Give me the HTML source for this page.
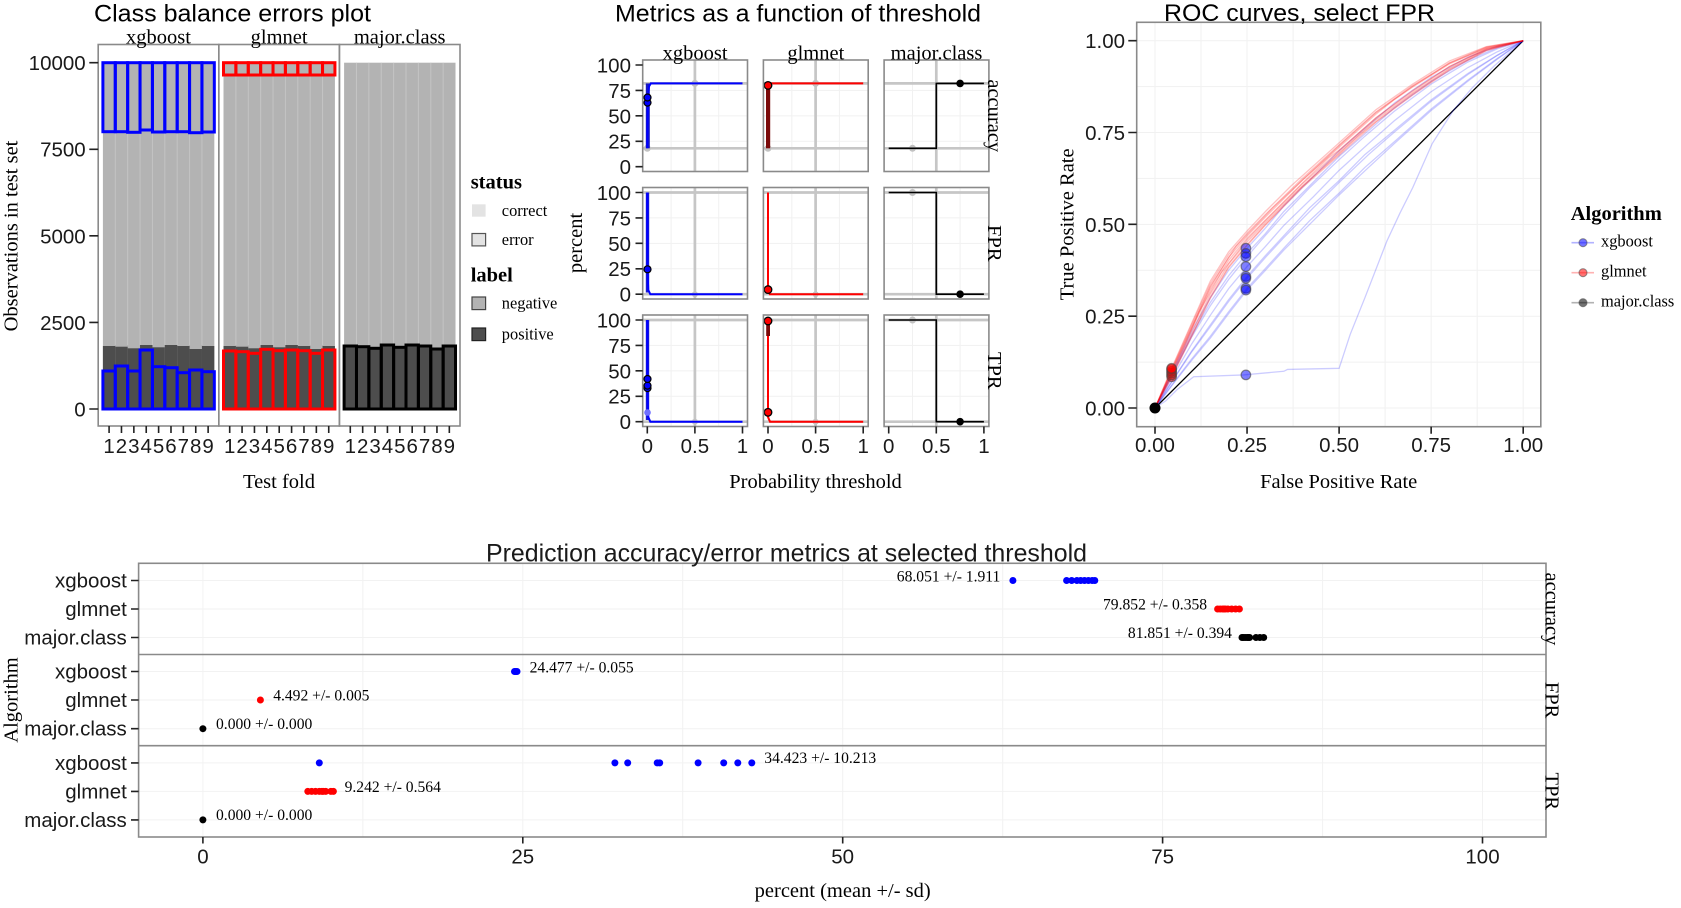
<!DOCTYPE html>
<html><head><meta charset="utf-8"><style>
html,body{margin:0;padding:0;background:#fff}
svg{display:block}
text.s{font-family:"Liberation Sans",Arial,sans-serif;font-size:20.5px;fill:#1a1a1a}
text.r{font-family:"Liberation Serif","Times New Roman",serif;font-size:20.5px;fill:#000}
text.t{font-size:24px;fill:#000}
text.lg{font-size:16.4px}
text.an{font-size:15.6px}
text.b{font-weight:bold}
.c polyline{vector-effect:non-scaling-stroke;fill:none}
</style></head><body>
<svg width="1681" height="908" viewBox="0 0 1681 908" xmlns="http://www.w3.org/2000/svg">
<rect width="1681" height="908" fill="#fff"/>

<!-- ============ PLOT 1: Class balance ============ -->
<text class="s t" x="94" y="21.7" textLength="277" lengthAdjust="spacingAndGlyphs">Class balance errors plot</text>
<g fill="#b3b3b3">
<rect x="102.9" y="62.7" width="111.42" height="346.3"/>
<rect x="223.5" y="62.7" width="111.42" height="346.3"/>
<rect x="344.1" y="62.7" width="111.42" height="346.3"/>
</g>
<g fill="#4d4d4d">
<rect x="102.9" y="346" width="12.4" height="63"/><rect x="115.28" y="346.7" width="12.4" height="62.3"/><rect x="127.66" y="348.3" width="12.4" height="60.7"/><rect x="140.04" y="345" width="12.4" height="64"/><rect x="152.42" y="347.3" width="12.4" height="61.7"/><rect x="164.8" y="345" width="12.4" height="64"/><rect x="177.18" y="346" width="12.4" height="63"/><rect x="189.56" y="349" width="12.4" height="60"/><rect x="201.94" y="346" width="12.38" height="63"/>
<rect x="223.5" y="346" width="12.4" height="63"/><rect x="235.88" y="346.7" width="12.4" height="62.3"/><rect x="248.26" y="348.3" width="12.4" height="60.7"/><rect x="260.64" y="345" width="12.4" height="64"/><rect x="273.02" y="347.3" width="12.4" height="61.7"/><rect x="285.4" y="345" width="12.4" height="64"/><rect x="297.78" y="346" width="12.4" height="63"/><rect x="310.16" y="349" width="12.4" height="60"/><rect x="322.54" y="346" width="12.38" height="63"/>
<rect x="344.1" y="346" width="12.4" height="63"/><rect x="356.48" y="346.7" width="12.4" height="62.3"/><rect x="368.86" y="348.3" width="12.4" height="60.7"/><rect x="381.24" y="345" width="12.4" height="64"/><rect x="393.62" y="347.3" width="12.4" height="61.7"/><rect x="406" y="345" width="12.4" height="64"/><rect x="418.38" y="346" width="12.4" height="63"/><rect x="430.76" y="349" width="12.4" height="60"/><rect x="443.14" y="346" width="12.38" height="63"/>
</g>
<path stroke="#c4c4c4" stroke-width="1" d="M115.28,62.7V345M127.66,62.7V345M140.04,62.7V345M152.42,62.7V345M164.8,62.7V345M177.18,62.7V345M189.56,62.7V345M201.94,62.7V345M235.88,62.7V345M248.26,62.7V345M260.64,62.7V345M273.02,62.7V345M285.4,62.7V345M297.78,62.7V345M310.16,62.7V345M322.54,62.7V345M356.48,62.7V345M368.86,62.7V345M381.24,62.7V345M393.62,62.7V345M406,62.7V345M418.38,62.7V345M430.76,62.7V345M443.14,62.7V345"/>
<g fill="none" stroke="#0000ff" stroke-width="3">
<rect x="102.9" y="62.7" width="12.38" height="69"/><rect x="115.28" y="62.7" width="12.38" height="69"/><rect x="127.66" y="62.7" width="12.38" height="69.6"/><rect x="140.04" y="62.7" width="12.38" height="67.3"/><rect x="152.42" y="62.7" width="12.38" height="69.3"/><rect x="164.8" y="62.7" width="12.38" height="69"/><rect x="177.18" y="62.7" width="12.38" height="69"/><rect x="189.56" y="62.7" width="12.38" height="70"/><rect x="201.94" y="62.7" width="12.38" height="69.3"/>
<rect x="102.9" y="371" width="12.38" height="38"/><rect x="115.28" y="366" width="12.38" height="43"/><rect x="127.66" y="371" width="12.38" height="38"/><rect x="140.04" y="350" width="12.38" height="59"/><rect x="152.42" y="366.7" width="12.38" height="42.3"/><rect x="164.8" y="367.7" width="12.38" height="41.3"/><rect x="177.18" y="372.7" width="12.38" height="36.3"/><rect x="189.56" y="370" width="12.38" height="39"/><rect x="201.94" y="371.7" width="12.38" height="37.3"/>
</g>
<g fill="none" stroke="#ff0000" stroke-width="3">
<rect x="223.5" y="62.7" width="12.38" height="12.3"/><rect x="235.88" y="62.7" width="12.38" height="12.3"/><rect x="248.26" y="62.7" width="12.38" height="12.3"/><rect x="260.64" y="62.7" width="12.38" height="12.3"/><rect x="273.02" y="62.7" width="12.38" height="12.3"/><rect x="285.4" y="62.7" width="12.38" height="12.3"/><rect x="297.78" y="62.7" width="12.38" height="12.3"/><rect x="310.16" y="62.7" width="12.38" height="12.3"/><rect x="322.54" y="62.7" width="12.38" height="12.3"/>
<rect x="223.5" y="351" width="12.38" height="58"/><rect x="235.88" y="351.7" width="12.38" height="57.3"/><rect x="248.26" y="353.3" width="12.38" height="55.7"/><rect x="260.64" y="349.3" width="12.38" height="59.7"/><rect x="273.02" y="350.7" width="12.38" height="58.3"/><rect x="285.4" y="350" width="12.38" height="59"/><rect x="297.78" y="350.7" width="12.38" height="58.3"/><rect x="310.16" y="353.3" width="12.38" height="55.7"/><rect x="322.54" y="350" width="12.38" height="59"/>
</g>
<g fill="none" stroke="#000" stroke-width="3">
<rect x="344.1" y="346" width="12.38" height="63"/><rect x="356.48" y="346.7" width="12.38" height="62.3"/><rect x="368.86" y="348.3" width="12.38" height="60.7"/><rect x="381.24" y="345" width="12.38" height="64"/><rect x="393.62" y="347.3" width="12.38" height="61.7"/><rect x="406" y="345" width="12.38" height="64"/><rect x="418.38" y="346" width="12.38" height="63"/><rect x="430.76" y="349" width="12.38" height="60"/><rect x="443.14" y="346" width="12.38" height="63"/>
</g>
<g fill="none" stroke="#8a8a8a" stroke-width="1.6">
<rect x="98.2" y="44.5" width="120.6" height="381.5"/>
<rect x="218.8" y="44.5" width="120.6" height="381.5"/>
<rect x="339.4" y="44.5" width="120.6" height="381.5"/>
</g>
<path stroke="#222" stroke-width="1.6" d="M89.3,62.7H98.2M89.3,149.3H98.2M89.3,235.85H98.2M89.3,322.4H98.2M89.3,409H98.2"/>
<g text-anchor="end">
<text class="s" x="85.7" y="70.1">10000</text>
<text class="s" x="85.7" y="156.7">7500</text>
<text class="s" x="85.7" y="243.25">5000</text>
<text class="s" x="85.7" y="329.8">2500</text>
<text class="s" x="85.7" y="416.4">0</text>
</g>
<path stroke="#222" stroke-width="1.6" d="M109.09,426v7M121.47,426v7M133.85,426v7M146.23,426v7M158.61,426v7M170.99,426v7M183.37,426v7M195.75,426v7M208.13,426v7M229.69,426v7M242.07,426v7M254.45,426v7M266.83,426v7M279.21,426v7M291.59,426v7M303.97,426v7M316.35,426v7M328.73,426v7M350.29,426v7M362.67,426v7M375.05,426v7M387.43,426v7M399.81,426v7M412.19,426v7M424.57,426v7M436.95,426v7M449.33,426v7"/>
<text class="s" text-anchor="middle" y="453" x="109.09 121.47 133.85 146.23 158.61 170.99 183.37 195.75 208.13">123456789</text>
<text class="s" text-anchor="middle" y="453" x="229.69 242.07 254.45 266.83 279.21 291.59 303.97 316.35 328.73">123456789</text>
<text class="s" text-anchor="middle" y="453" x="350.29 362.67 375.05 387.43 399.81 412.19 424.57 436.95 449.33">123456789</text>
<text class="r" text-anchor="middle" x="158.5" y="43.5">xgboost</text>
<text class="r" text-anchor="middle" x="279.1" y="43.5">glmnet</text>
<text class="r" text-anchor="middle" x="399.7" y="43.5">major.class</text>
<text class="r" text-anchor="middle" transform="translate(17.7,236) rotate(-90)">Observations in test set</text>
<text class="r" text-anchor="middle" x="279" y="488">Test fold</text>
<!-- legend -->
<text class="r b" x="470.7" y="188.3">status</text>
<rect x="472" y="204.3" width="13.6" height="12.4" fill="#e3e3e3"/>
<text class="r lg" x="501.8" y="216">correct</text>
<rect x="472" y="233.5" width="13.6" height="12.4" fill="#e3e3e3" stroke="#555" stroke-width="1.2"/>
<text class="r lg" x="501.8" y="245">error</text>
<text class="r b" x="470.7" y="281.7">label</text>
<rect x="472" y="297" width="13.6" height="12.6" fill="#b3b3b3" stroke="#444" stroke-width="1.2"/>
<text class="r lg" x="501.8" y="308.5">negative</text>
<rect x="472" y="328" width="13.6" height="12.6" fill="#4d4d4d" stroke="#222" stroke-width="1.2"/>
<text class="r lg" x="501.8" y="339.5">positive</text>

<!-- ============ PLOT 2: Threshold ============ -->
<text class="s t" x="615" y="21.7" textLength="366" lengthAdjust="spacingAndGlyphs">Metrics as a function of threshold</text>
<g stroke="#f1f1f1" stroke-width="1">
<path d="M671.1,60V171.5M718.7,60V171.5M671.1,187.5V299M718.7,187.5V299M671.1,315V426.5M718.7,315V426.5"/>
<path d="M791.8,60V171.5M839.4,60V171.5M791.8,187.5V299M839.4,187.5V299M791.8,315V426.5M839.4,315V426.5"/>
<path d="M912.5,60V171.5M960.1,60V171.5M912.5,187.5V299M960.1,187.5V299M912.5,315V426.5M960.1,315V426.5"/>
<path d="M642.7,90.4H988.9M642.7,115.85H988.9M642.7,141.3H988.9M642.7,217.9H988.9M642.7,243.35H988.9M642.7,268.8H988.9M642.7,345.4H988.9M642.7,370.85H988.9M642.7,396.3H988.9"/>
</g>
<rect x="747.5" y="55" width="15.9" height="380" fill="#fff"/>
<rect x="868.2" y="55" width="15.9" height="380" fill="#fff"/>
<rect x="640" y="171.5" width="350" height="16" fill="#fff"/>
<rect x="640" y="299" width="350" height="16" fill="#fff"/>
<g stroke="#c6c6c6" stroke-width="2.7" fill="none">
<path d="M694.9,60V171.5M694.9,187.5V299M694.9,315V426.5M815.6,60V171.5M815.6,187.5V299M815.6,315V426.5M936.3,60V171.5M936.3,187.5V299M936.3,315V426.5"/>
<path d="M642.7,83.4H747.5M642.7,148.3H747.5M763.4,83.4H868.2M763.4,148.3H868.2M884.1,83.4H988.9M884.1,148.3H988.9"/>
<path d="M642.7,192.5H747.5M642.7,294.2H747.5M763.4,192.5H868.2M763.4,294.2H868.2M884.1,192.5H988.9M884.1,294.2H988.9"/>
<path d="M642.7,320H747.5M642.7,421.7H747.5M763.4,320H868.2M763.4,421.7H868.2M884.1,320H988.9M884.1,421.7H988.9"/>
</g>
<g fill="#c2c2c2">
<circle cx="647.3" cy="148.3" r="3.5"/><circle cx="694.9" cy="83.4" r="3.5"/><circle cx="768" cy="148.3" r="3.5"/><circle cx="815.6" cy="83.4" r="3.5"/>
<circle cx="912.5" cy="148.3" r="3.5"/><circle cx="912.5" cy="192.5" r="3.5"/><circle cx="912.5" cy="320" r="3.5"/>
<circle cx="694.9" cy="294.2" r="3"/><circle cx="694.9" cy="421.7" r="3"/><circle cx="815.6" cy="294.2" r="3"/><circle cx="815.6" cy="421.7" r="3"/>
</g>
<rect x="645.8" y="83.4" width="4" height="64.9" fill="#1818c0"/>
<rect x="645.8" y="192.5" width="3.4" height="100" fill="#1a1ad0"/>
<rect x="645.8" y="320" width="3.4" height="100" fill="#1a1ad0"/>
<g fill="none" stroke="#0000ff" stroke-width="2">
<path d="M647.3,148.3L647.6,120L648.2,95L649,86.5L650.8,83.4H742.5"/>
<path d="M647.3,192.5L647.5,272L648.3,290L650.3,294.2H742.5"/>
<path d="M647.3,320L647.5,398L648.3,417L650.3,421.7H742.5"/>
</g>
<g fill="#0000ff" stroke="#000" stroke-width="1.2">
<circle cx="647.5" cy="102.6" r="3.5"/><circle cx="647.5" cy="97.5" r="3.5"/>
<circle cx="647.5" cy="269.3" r="3.5"/>
<circle cx="647.5" cy="388.1" r="3.5"/><circle cx="647.5" cy="385.6" r="3.5"/><circle cx="647.5" cy="379" r="3.5"/>
</g>
<circle cx="647.5" cy="412.5" r="3.3" fill="#6f6fff"/>
<rect x="766" y="83.4" width="4.2" height="64.9" fill="#7a0a0a"/>
<rect x="766.2" y="320" width="3.8" height="16" fill="#7a0a0a"/>
<g fill="none" stroke="#ff0000" stroke-width="2">
<path d="M768,83.4H863.2"/>
<path d="M768,192.5V290L769.8,294.2H863.2"/>
<path d="M768,336V417L770,421.7H863.2"/>
</g>
<g fill="#ff0000" stroke="#000" stroke-width="1.3">
<circle cx="768" cy="85.4" r="3.8"/>
<circle cx="768" cy="289.6" r="3.8"/>
<circle cx="768" cy="321" r="3.8"/><circle cx="768" cy="412.3" r="3.8"/>
</g>
<g fill="none" stroke="#000" stroke-width="1.6">
<path d="M888.7,148.3H936.3V83.4H983.9"/>
<path d="M888.7,192.5H936.3V294.2H983.9"/>
<path d="M888.7,320H936.3V421.7H983.9"/>
</g>
<g fill="#000"><circle cx="960.1" cy="83.4" r="3.8"/><circle cx="960.1" cy="294.2" r="3.8"/><circle cx="960.1" cy="421.7" r="3.8"/></g>
<g fill="none" stroke="#8a8a8a" stroke-width="1.6">
<rect x="642.7" y="60" width="104.8" height="111.5"/><rect x="763.4" y="60" width="104.8" height="111.5"/><rect x="884.1" y="60" width="104.8" height="111.5"/>
<rect x="642.7" y="187.5" width="104.8" height="111.5"/><rect x="763.4" y="187.5" width="104.8" height="111.5"/><rect x="884.1" y="187.5" width="104.8" height="111.5"/>
<rect x="642.7" y="315" width="104.8" height="111.5"/><rect x="763.4" y="315" width="104.8" height="111.5"/><rect x="884.1" y="315" width="104.8" height="111.5"/>
</g>
<path stroke="#222" stroke-width="1.6" d="M635.5,65H642.7M635.5,90.4H642.7M635.5,115.85H642.7M635.5,141.3H642.7M635.5,166.7H642.7M635.5,192.5H642.7M635.5,217.9H642.7M635.5,243.35H642.7M635.5,268.8H642.7M635.5,294.2H642.7M635.5,320H642.7M635.5,345.4H642.7M635.5,370.85H642.7M635.5,396.3H642.7M635.5,421.7H642.7"/>
<g text-anchor="end">
<text class="s" x="631" y="72.4">100</text><text class="s" x="631" y="97.8">75</text><text class="s" x="631" y="123.25">50</text><text class="s" x="631" y="148.7">25</text><text class="s" x="631" y="174.1">0</text>
<text class="s" x="631" y="199.9">100</text><text class="s" x="631" y="225.3">75</text><text class="s" x="631" y="250.75">50</text><text class="s" x="631" y="276.2">25</text><text class="s" x="631" y="301.6">0</text>
<text class="s" x="631" y="327.4">100</text><text class="s" x="631" y="352.8">75</text><text class="s" x="631" y="378.25">50</text><text class="s" x="631" y="403.7">25</text><text class="s" x="631" y="429.1">0</text>
</g>
<path stroke="#222" stroke-width="1.6" d="M647.3,426.5v7M694.9,426.5v7M742.5,426.5v7M768,426.5v7M815.6,426.5v7M863.2,426.5v7M888.7,426.5v7M936.3,426.5v7M983.9,426.5v7"/>
<g text-anchor="middle">
<text class="s" x="647.3" y="453">0</text><text class="s" x="694.9" y="453">0.5</text><text class="s" x="742.5" y="453">1</text>
<text class="s" x="768" y="453">0</text><text class="s" x="815.6" y="453">0.5</text><text class="s" x="863.2" y="453">1</text>
<text class="s" x="888.7" y="453">0</text><text class="s" x="936.3" y="453">0.5</text><text class="s" x="983.9" y="453">1</text>
<text class="r" x="695.1" y="59.5">xgboost</text>
<text class="r" x="815.8" y="59.5">glmnet</text>
<text class="r" x="936.5" y="59.5">major.class</text>
<text class="r" transform="translate(988,115.75) rotate(90)">accuracy</text>
<text class="r" transform="translate(988,243.25) rotate(90)">FPR</text>
<text class="r" transform="translate(988,370.75) rotate(90)">TPR</text>
<text class="r" transform="translate(582,243) rotate(-90)">percent</text>
<text class="r" x="815.5" y="488">Probability threshold</text>
</g>

<!-- ============ PLOT 3: ROC ============ -->
<g stroke="#f1f1f1" stroke-width="1">
<path d="M1155,22.3V426.7M1201,22.3V426.7M1247.05,22.3V426.7M1293.1,22.3V426.7M1339.1,22.3V426.7M1385.1,22.3V426.7M1431.15,22.3V426.7M1477.2,22.3V426.7M1523.2,22.3V426.7"/>
<path d="M1136.7,40.7H1540.8M1136.7,86.6H1540.8M1136.7,132.5H1540.8M1136.7,178.4H1540.8M1136.7,224.35H1540.8M1136.7,270.3H1540.8M1136.7,316.2H1540.8M1136.7,362.1H1540.8M1136.7,408H1540.8"/>
</g>
<line x1="1155" y1="408" x2="1523.2" y2="40.7" stroke="#000" stroke-width="1.3"/>
<g class="c" transform="translate(1155,408) scale(368.2,-367.3)">
<g stroke="#0000ff" stroke-opacity="0.2" stroke-width="1.3">
<polyline points="0,0 .045,.095 .1,.21 .15,.30 .2,.375 .25,.435 .3,.49 .35,.55 .42,.62 .5,.70 .58,.77 .65,.83 .75,.90 .85,.955 .93,.985 1,1"/>
<polyline points="0,0 .045,.091 .1,.200 .15,.287 .2,.36 .25,.421 .3,.475 .35,.535 .43,.615 .5,.685 .58,.755 .65,.817 .75,.889 .85,.947 .93,.981 1,1"/>
<polyline points="0,0 .045,.088 .1,.194 .15,.278 .2,.35 .25,.412 .3,.47 .35,.526 .42,.6 .5,.676 .57,.74 .65,.808 .75,.882 .85,.942 .93,.978 1,1"/>
<polyline points="0,0 .045,.080 .1,.175 .15,.252 .2,.325 .25,.385 .3,.44 .35,.497 .43,.575 .5,.647 .58,.72 .65,.782 .75,.861 .85,.927 .93,.970 1,1"/>
<polyline points="0,0 .045,.071 .1,.156 .15,.226 .2,.295 .25,.358 .3,.415 .35,.469 .42,.545 .5,.619 .57,.69 .65,.756 .75,.839 .85,.911 .93,.961 1,1"/>
<polyline points="0,0 .045,.070 .1,.153 .15,.221 .2,.29 .25,.353 .3,.41 .35,.464 .43,.545 .5,.614 .58,.69 .65,.751 .75,.835 .85,.908 .93,.960 1,1"/>
<polyline points="0,0 .045,.062 .1,.134 .15,.195 .2,.262 .25,.326 .3,.38 .35,.435 .42,.51 .5,.585 .57,.655 .65,.725 .75,.814 .85,.893 .93,.952 1,1"/>
<polyline points="0,0 .045,.06 .1,.13 .15,.19 .2,.257 .25,.321 .3,.375 .35,.43 .43,.51 .5,.58 .58,.655 .65,.72 .75,.81 .85,.89 .93,.95 1,1"/>
<polyline points="0,0 .03,.02 .06,.05 .105,.085 .24,.09 .35,.1 .36,.105 .5,.108 .53,.2 .57,.3 .63,.455 .665,.53 .7,.6 .753,.72 .81,.81 .86,.87 .92,.93 1,1"/>
</g>
<g stroke="#ff0000" stroke-opacity="0.24" stroke-width="1.3">
<polyline points="0,0 .045,.108 .1,.232 .15,.345 .2,.425 .25,.482 .3,.535 .37,.605 .4,.632 .5,.722 .6,.812 .7,.882 .8,.945 .9,.984 1,1"/>
<polyline points="0,0 .045,.098 .1,.215 .15,.322 .2,.402 .25,.462 .3,.512 .4,.612 .47,.68 .5,.702 .6,.79 .7,.865 .8,.93 .9,.978 1,1"/>
<polyline points="0,0 .045,.09 .1,.205 .15,.31 .2,.392 .25,.452 .3,.505 .38,.585 .45,.65 .5,.695 .6,.785 .7,.858 .8,.925 .9,.976 1,1"/>
<polyline points="0,0 .045,.105 .1,.228 .15,.338 .2,.418 .25,.476 .3,.527 .35,.576 .4,.625 .5,.716 .6,.806 .7,.878 .75,.908 .8,.94 .9,.983 1,1"/>
<polyline points="0,0 .045,.086 .1,.198 .15,.302 .2,.385 .25,.445 .3,.5 .4,.603 .5,.692 .55,.738 .6,.78 .7,.855 .8,.922 .9,.974 1,1"/>
<polyline points="0,0 .045,.1 .1,.22 .15,.328 .2,.41 .25,.468 .3,.52 .4,.62 .5,.71 .6,.8 .65,.84 .7,.874 .8,.937 .9,.98 1,1"/>
<polyline points="0,0 .045,.094 .08,.168 .12,.262 .18,.368 .25,.458 .3,.51 .4,.61 .5,.7 .6,.79 .7,.862 .8,.93 .9,.977 1,1"/>
<polyline points="0,0 .045,.102 .1,.222 .15,.332 .22,.44 .25,.472 .32,.545 .4,.62 .5,.714 .6,.804 .7,.876 .8,.939 .9,.981 1,1"/>
<polyline points="0,0 .045,.083 .1,.195 .15,.298 .2,.382 .25,.442 .3,.498 .4,.6 .5,.688 .6,.778 .7,.852 .8,.92 .9,.973 1,1"/>
</g>
</g>
<g fill="#0000ff" fill-opacity="0.5" stroke="#444" stroke-opacity="0.6" stroke-width="1.2">
<circle cx="1245.9" cy="248.2" r="4.8"/><circle cx="1245.9" cy="253.4" r="4.8"/><circle cx="1245.9" cy="256.7" r="4.8"/><circle cx="1245.9" cy="266.6" r="4.8"/><circle cx="1245.9" cy="276.5" r="4.8"/><circle cx="1245.9" cy="278.3" r="4.8"/><circle cx="1245.9" cy="288.3" r="4.8"/><circle cx="1245.9" cy="290.1" r="4.8"/><circle cx="1245.9" cy="374.9" r="4.8"/>
</g>
<g fill="#ff0000" fill-opacity="0.55" stroke="#444" stroke-opacity="0.6" stroke-width="1.2">
<circle cx="1171.6" cy="376.8" r="4.8"/><circle cx="1171.6" cy="374.9" r="4.8"/><circle cx="1171.6" cy="373.1" r="4.8"/><circle cx="1171.6" cy="371.3" r="4.8"/><circle cx="1171.6" cy="369.4" r="4.8"/><circle cx="1171.6" cy="368.3" r="4.8"/>
</g>
<circle cx="1155" cy="408" r="5.5" fill="#000"/>
<rect x="1136.7" y="22.3" width="404.1" height="404.4" fill="none" stroke="#8a8a8a" stroke-width="1.6"/>
<text class="s t" x="1164" y="21" textLength="271" lengthAdjust="spacingAndGlyphs">ROC curves, select FPR</text>
<path stroke="#222" stroke-width="1.6" d="M1128.3,40.7H1136.7M1128.3,132.5H1136.7M1128.3,224.35H1136.7M1128.3,316.2H1136.7M1128.3,408H1136.7M1155,426.7v7M1247.05,426.7v7M1339.1,426.7v7M1431.15,426.7v7M1523.2,426.7v7"/>
<g text-anchor="end">
<text class="s" x="1125" y="48.1">1.00</text><text class="s" x="1125" y="139.9">0.75</text><text class="s" x="1125" y="231.75">0.50</text><text class="s" x="1125" y="323.6">0.25</text><text class="s" x="1125" y="415.4">0.00</text>
</g>
<g text-anchor="middle">
<text class="s" x="1155" y="452">0.00</text><text class="s" x="1247.05" y="452">0.25</text><text class="s" x="1339.1" y="452">0.50</text><text class="s" x="1431.15" y="452">0.75</text><text class="s" x="1523.2" y="452">1.00</text>
<text class="r" transform="translate(1073.5,224.35) rotate(-90)">True Positive Rate</text>
<text class="r" x="1338.7" y="488">False Positive Rate</text>
</g>
<text class="r b" x="1570.7" y="220">Algorithm</text>
<g stroke-width="1.6">
<line x1="1571.5" y1="242.7" x2="1594" y2="242.7" stroke="#0000ff" stroke-opacity="0.3"/>
<line x1="1571.5" y1="272.7" x2="1594" y2="272.7" stroke="#ff0000" stroke-opacity="0.3"/>
<line x1="1571.5" y1="302.7" x2="1594" y2="302.7" stroke="#000" stroke-opacity="0.3"/>
</g>
<g stroke="#555" stroke-opacity="0.6" stroke-width="1.1">
<circle cx="1583" cy="242.7" r="4" fill="#0000ff" fill-opacity="0.55"/>
<circle cx="1583" cy="272.7" r="4" fill="#ff0000" fill-opacity="0.55"/>
<circle cx="1583" cy="302.7" r="4" fill="#000" fill-opacity="0.55"/>
</g>
<text class="r lg" x="1601" y="246.7">xgboost</text>
<text class="r lg" x="1601" y="276.7">glmnet</text>
<text class="r lg" x="1601" y="306.7">major.class</text>

<!-- ============ PLOT 4: metrics ============ -->
<g stroke="#f2f2f2" stroke-width="1">
<path d="M202.9,563.3V837M362.85,563.3V837M522.8,563.3V837M682.7,563.3V837M842.7,563.3V837M1002.7,563.3V837M1162.6,563.3V837M1322.6,563.3V837M1482.5,563.3V837"/>
<path d="M138.6,580.5H1546M138.6,609H1546M138.6,637.5H1546M138.6,671.5H1546M138.6,700H1546M138.6,728.7H1546M138.6,762.9H1546M138.6,791.4H1546M138.6,819.9H1546"/>
</g>
<g fill="#0000ff">
<circle cx="1012.9" cy="580.5" r="3.5"/><circle cx="1066.6" cy="580.5" r="3.5"/><circle cx="1071.7" cy="580.5" r="3.5"/><circle cx="1076.9" cy="580.5" r="3.5"/><circle cx="1080.7" cy="580.5" r="3.5"/><circle cx="1084.5" cy="580.5" r="3.5"/><circle cx="1088.4" cy="580.5" r="3.5"/><circle cx="1092.2" cy="580.5" r="3.5"/><circle cx="1094.8" cy="580.5" r="3.5"/>
<circle cx="514.5" cy="671.5" r="3.5"/><circle cx="515.8" cy="671.5" r="3.5"/><circle cx="517" cy="671.5" r="3.5"/>
<circle cx="319.3" cy="762.9" r="3.5"/><circle cx="614.9" cy="762.9" r="3.5"/><circle cx="627.7" cy="762.9" r="3.5"/><circle cx="657.2" cy="762.9" r="3.5"/><circle cx="659.7" cy="762.9" r="3.5"/><circle cx="698.1" cy="762.9" r="3.5"/><circle cx="723.7" cy="762.9" r="3.5"/><circle cx="737.8" cy="762.9" r="3.5"/><circle cx="751.8" cy="762.9" r="3.5"/>
</g>
<g fill="#ff0000">
<circle cx="1217.6" cy="609" r="3.5"/><circle cx="1220.2" cy="609" r="3.5"/><circle cx="1222.7" cy="609" r="3.5"/><circle cx="1224" cy="609" r="3.5"/><circle cx="1225.3" cy="609" r="3.5"/><circle cx="1227.9" cy="609" r="3.5"/><circle cx="1231.7" cy="609" r="3.5"/><circle cx="1235.6" cy="609" r="3.5"/><circle cx="1239.4" cy="609" r="3.5"/>
<circle cx="260.4" cy="700" r="3.5"/>
<circle cx="307.8" cy="791.4" r="3.5"/><circle cx="311.7" cy="791.4" r="3.5"/><circle cx="315.5" cy="791.4" r="3.5"/><circle cx="319.3" cy="791.4" r="3.5"/><circle cx="321.9" cy="791.4" r="3.5"/><circle cx="323.2" cy="791.4" r="3.5"/><circle cx="325.7" cy="791.4" r="3.5"/><circle cx="330.9" cy="791.4" r="3.5"/><circle cx="333.4" cy="791.4" r="3.5"/>
</g>
<g fill="#000">
<circle cx="1242" cy="637.5" r="3.5"/><circle cx="1243.2" cy="637.5" r="3.5"/><circle cx="1245.1" cy="637.5" r="3.5"/><circle cx="1247.1" cy="637.5" r="3.5"/><circle cx="1248.3" cy="637.5" r="3.5"/><circle cx="1249.6" cy="637.5" r="3.5"/><circle cx="1256" cy="637.5" r="3.5"/><circle cx="1259.9" cy="637.5" r="3.5"/><circle cx="1263.7" cy="637.5" r="3.5"/>
<circle cx="202.9" cy="728.7" r="3.5"/>
<circle cx="202.9" cy="819.9" r="3.5"/>
</g>
<text class="r an" x="896.8" y="581.5">68.051 +/- 1.911</text>
<text class="r an" x="1103" y="609.5">79.852 +/- 0.358</text>
<text class="r an" x="1127.9" y="638">81.851 +/- 0.394</text>
<text class="r an" x="529.6" y="672.5">24.477 +/- 0.055</text>
<text class="r an" x="273.2" y="700.5">4.492 +/- 0.005</text>
<text class="r an" x="216" y="729">0.000 +/- 0.000</text>
<text class="r an" x="764.3" y="763">34.423 +/- 10.213</text>
<text class="r an" x="344.6" y="792">9.242 +/- 0.564</text>
<text class="r an" x="216" y="820">0.000 +/- 0.000</text>
<g fill="none" stroke="#8a8a8a" stroke-width="1.6">
<rect x="138.6" y="563.3" width="1407.4" height="273.7"/>
<path d="M138.6,654.5H1546M138.6,745.7H1546"/>
</g>
<text class="s" x="486" y="561.5" style="font-size:25px" textLength="601" lengthAdjust="spacingAndGlyphs">Prediction accuracy/error metrics at selected threshold</text>
<path stroke="#222" stroke-width="1.6" d="M131,580.5H138.6M131,609H138.6M131,637.5H138.6M131,671.5H138.6M131,700H138.6M131,728.7H138.6M131,762.9H138.6M131,791.4H138.6M131,819.9H138.6M202.9,837v6.5M522.8,837v6.5M842.7,837v6.5M1162.6,837v6.5M1482.5,837v6.5"/>
<g text-anchor="end">
<text class="s" x="126.8" y="587.5">xgboost</text><text class="s" x="126.8" y="616">glmnet</text><text class="s" x="126.8" y="644.5">major.class</text>
<text class="s" x="126.8" y="678.5">xgboost</text><text class="s" x="126.8" y="707">glmnet</text><text class="s" x="126.8" y="735.7">major.class</text>
<text class="s" x="126.8" y="769.9">xgboost</text><text class="s" x="126.8" y="798.4">glmnet</text><text class="s" x="126.8" y="826.9">major.class</text>
</g>
<g text-anchor="middle">
<text class="s" x="202.9" y="863.3">0</text><text class="s" x="522.8" y="863.3">25</text><text class="s" x="842.7" y="863.3">50</text><text class="s" x="1162.6" y="863.3">75</text><text class="s" x="1482.5" y="863.3">100</text>
<text class="r" x="842.7" y="897">percent (mean +/- sd)</text>
<text class="r" transform="translate(17.7,700) rotate(-90)">Algorithm</text>
<text class="r" transform="translate(1545.5,608.9) rotate(90)">accuracy</text>
<text class="r" transform="translate(1545.5,700.1) rotate(90)">FPR</text>
<text class="r" transform="translate(1545.5,791.3) rotate(90)">TPR</text>
</g>
</svg>
</body></html>
